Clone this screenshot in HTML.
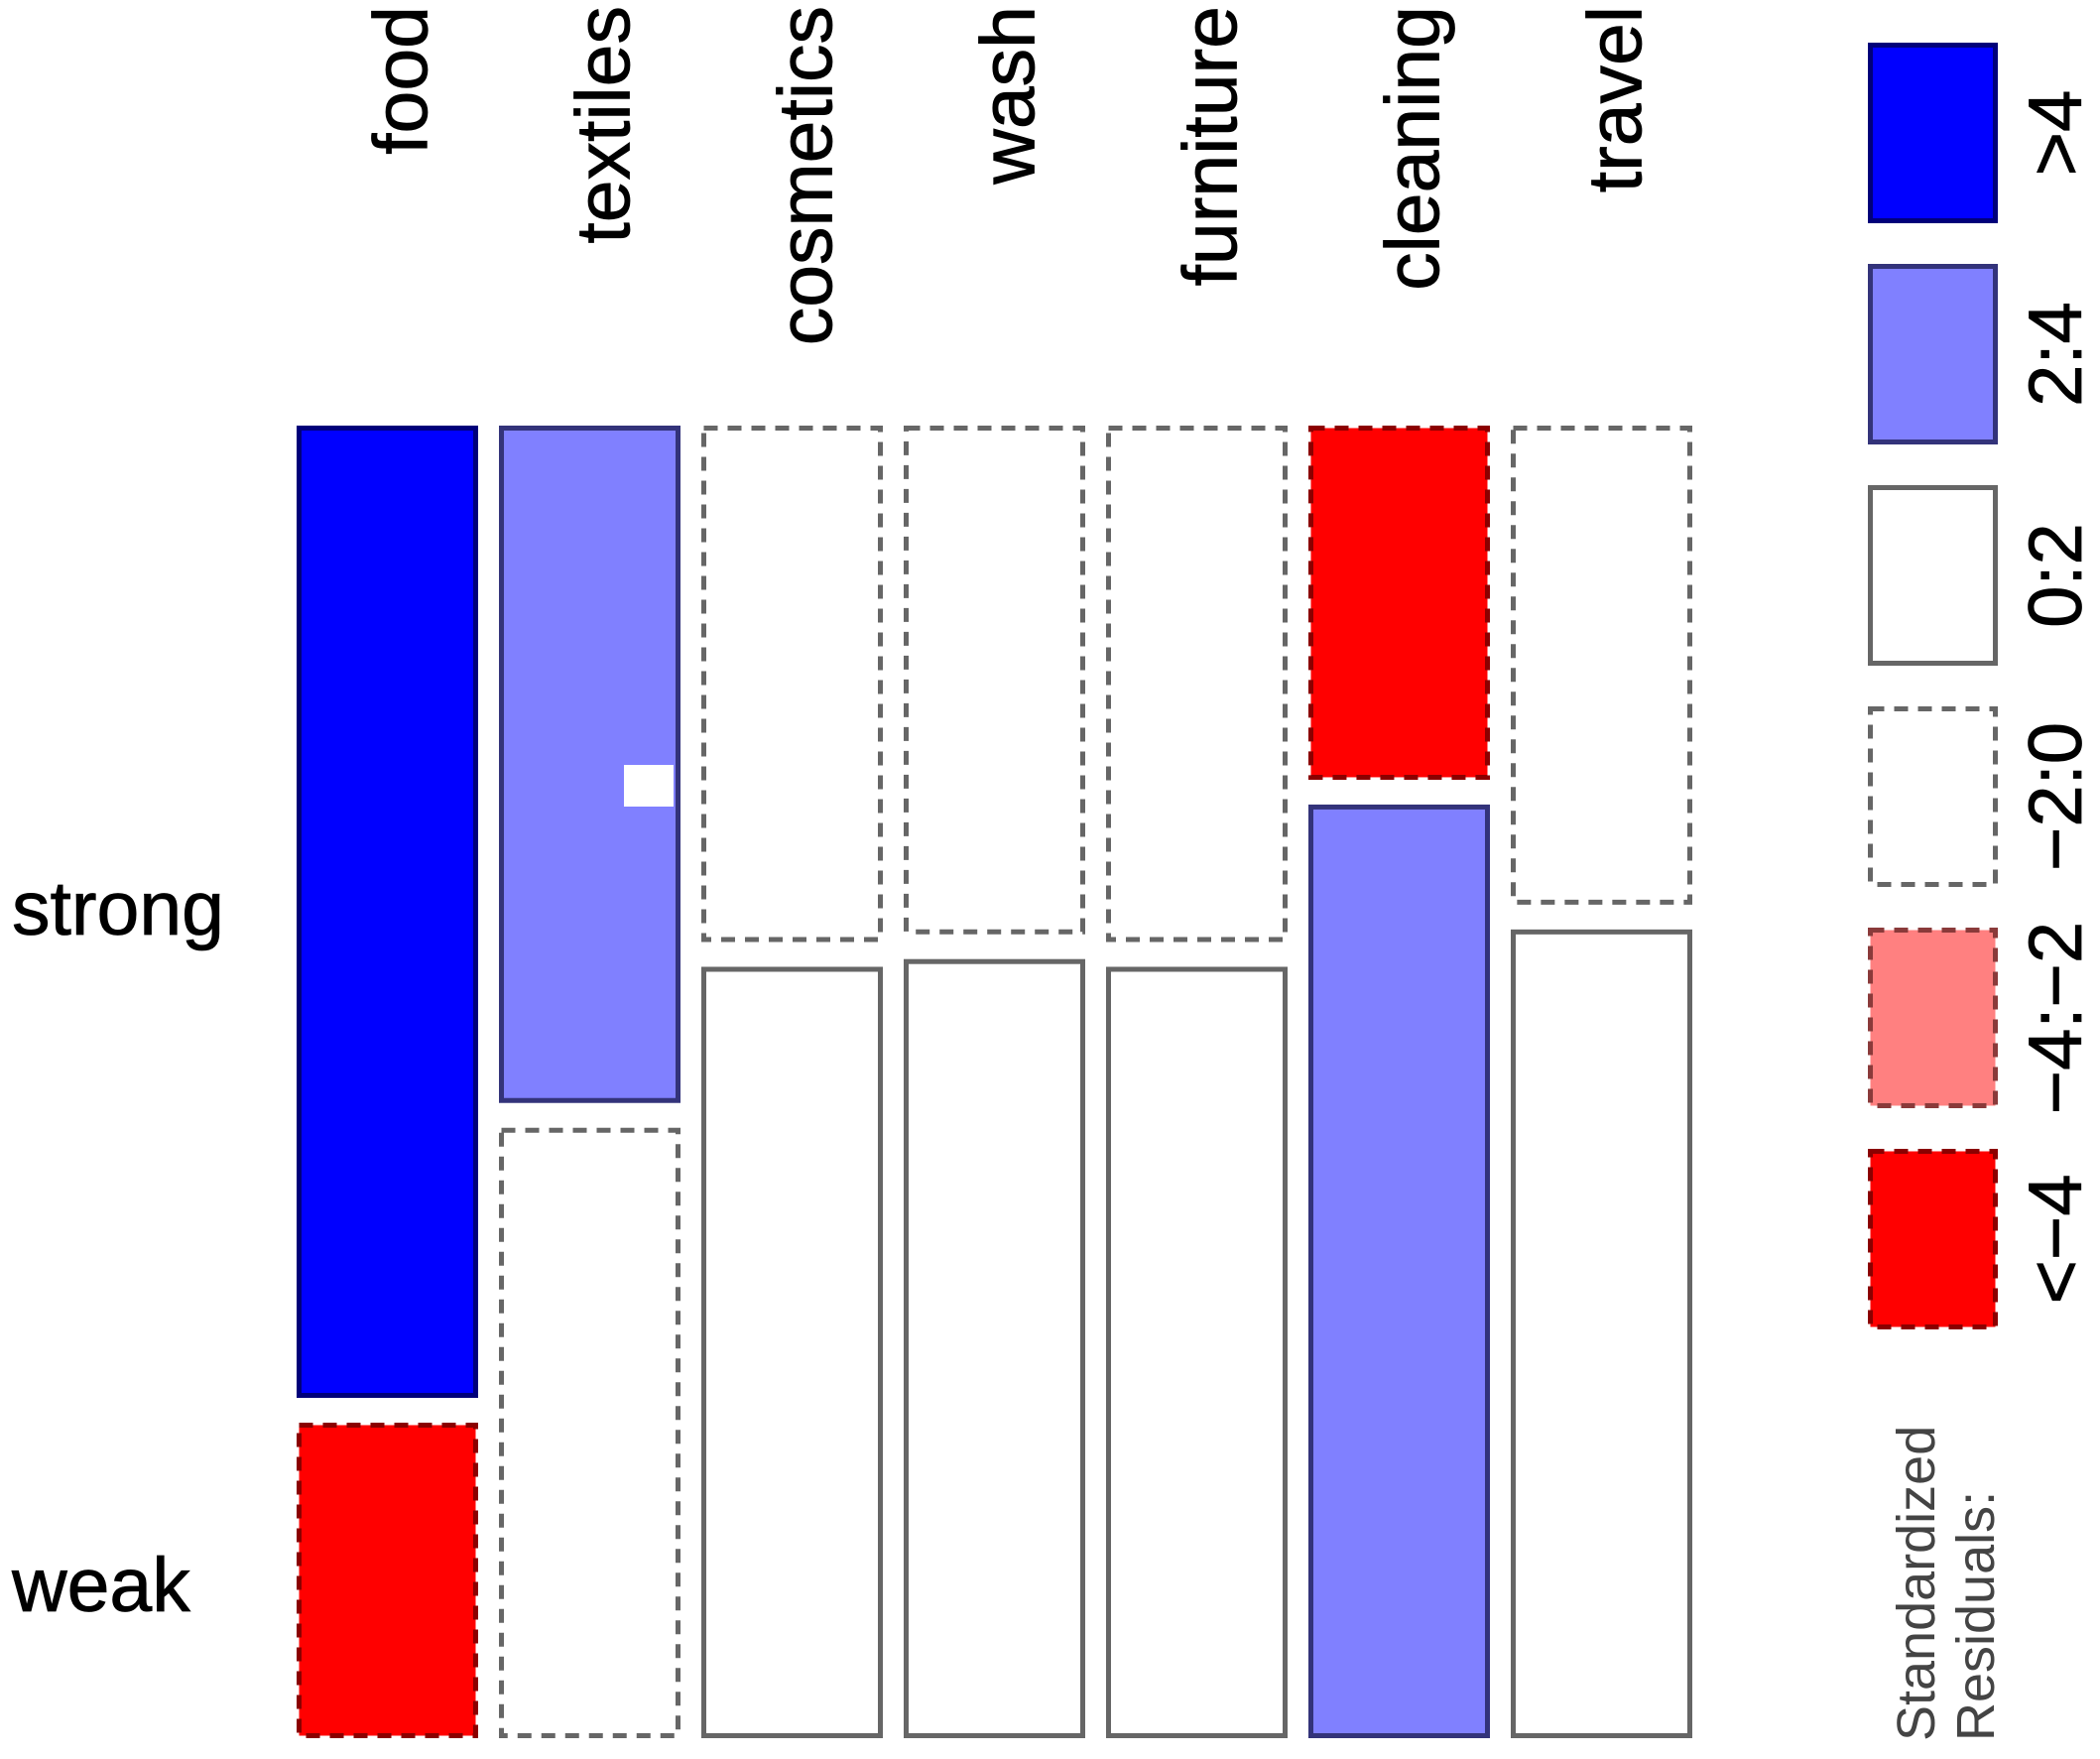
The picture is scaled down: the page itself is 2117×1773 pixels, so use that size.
<!DOCTYPE html>
<html><head><meta charset="utf-8"><style>
html,body{margin:0;padding:0;background:#fff;}
svg{display:block;font-family:"Liberation Sans",Arial,sans-serif;}
</style></head>
<body>
<svg id="chart" width="2117" height="1773" viewBox="0 0 2117 1773" xmlns="http://www.w3.org/2000/svg"></svg>
<script>
const categories = ["food","textiles","cosmetics","wash","furniture","cleaning","travel"];
const strongShare = [0.755,0.526,0.401,0.395,0.401,0.275,0.372];
const strongResidualClass = ["gt4","2to4","m2to0","m2to0","m2to0","ltm4","m2to0"];
const weakResidualClass = ["ltm4","m2to0","0to2","0to2","0to2","2to4","0to2"];
const rowLabels = ["strong","weak"];
const legendClasses = ["gt4","2to4","0to2","m2to0","m4tom2","ltm4"];
const legendLabels = [">4","2:4","0:2","\u22122:0","\u22124:\u22122","<\u22124"];

const styles = {
  "gt4":   {fill:"#0000ff", stroke:"#00007a", dash:null},
  "2to4":  {fill:"#8080ff", stroke:"#33337a", dash:null},
  "0to2":  {fill:"#ffffff", stroke:"#666666", dash:null},
  "m2to0": {fill:"#ffffff", stroke:"#666666", dash:"14,10"},
  "m4tom2":{fill:"#ff8080", stroke:"#8a3a3a", dash:"14,10"},
  "ltm4":  {fill:"#ff0000", stroke:"#8b0000", dash:"14,10"}
};
const NS = "http://www.w3.org/2000/svg";
const svg = document.getElementById("chart");
function mk(tag, attrs){ const e=document.createElementNS(NS,tag); for(const k in attrs) e.setAttribute(k,attrs[k]); svg.appendChild(e); return e; }

const x0 = 299, pitch = 204, colW = 183;
const yTop = 429, yBot = 1752, gap = 25;
const usable = yBot - yTop - gap;
function xPos(i){ return x0 + i*pitch; }
function yStrongEnd(p){ return yTop + p*usable; }

categories.forEach((c,i)=>{
  const x = xPos(i);
  const ys = yStrongEnd(strongShare[i]);
  const s1 = styles[strongResidualClass[i]];
  const r1 = mk("rect",{x:x+2.5,y:yTop+2.5,width:colW-5,height:ys-yTop-5,fill:s1.fill,stroke:s1.stroke,"stroke-width":5});
  if(s1.dash) r1.setAttribute("stroke-dasharray",s1.dash);
  
  
  const s2 = styles[weakResidualClass[i]];
  const y2 = ys + gap;
  const r2 = mk("rect",{x:x+2.5,y:y2+2.5,width:colW-5,height:yBot-y2-5,fill:s2.fill,stroke:s2.stroke,"stroke-width":5});
  if(s2.dash) r2.setAttribute("stroke-dasharray",s2.dash);
  
  
  const cx = x + colW/2 + 40;
  const t = mk("text",{x:cx,y:6,transform:`rotate(-90 ${cx} 6)`,"text-anchor":"end","font-size":77,fill:"#000",stroke:"#000","stroke-width":0.8});
  t.textContent = c;
  
  
});

const mkr = mk("rect",{x:xPos(1)+126,y:771,width:50,height:42,fill:"#ffffff"});



const rowY = [918, 1600];
rowLabels.forEach((r,i)=>{
  const t = mk("text",{x:12,y:rowY[i]+24,"font-size":77,fill:"#000",stroke:"#000","stroke-width":0.8});
  t.textContent = r;
  
  
});

const lx = 1883, lw = 131, ly0 = 43, lpitch = 223, lh = 182;
legendClasses.forEach((k,i)=>{
  const s = styles[k];
  const y = ly0 + i*lpitch;
  const r = mk("rect",{x:lx+2.5,y:y+2.5,width:lw-5,height:lh-5,fill:s.fill,stroke:s.stroke,"stroke-width":5});
  if(s.dash) r.setAttribute("stroke-dasharray",s.dash);
  
  
  const cy = y + lh/2, tx = 2098;
  const t = mk("text",{x:tx,y:cy,transform:`rotate(-90 ${tx} ${cy})`,"text-anchor":"middle","font-size":76,fill:"#000",stroke:"#000","stroke-width":0.8});
  t.textContent = legendLabels[i];
  
  
});
const legTitle = [["Standardized",1950],["Residuals:",2010]];
legTitle.forEach((l,i)=>{
  const t = mk("text",{x:l[1],y:1755,transform:`rotate(-90 ${l[1]} 1755)`,"text-anchor":"start","font-size":54,fill:"#444"});
  t.textContent = l[0];
  
  
});
</script>
</body></html>
